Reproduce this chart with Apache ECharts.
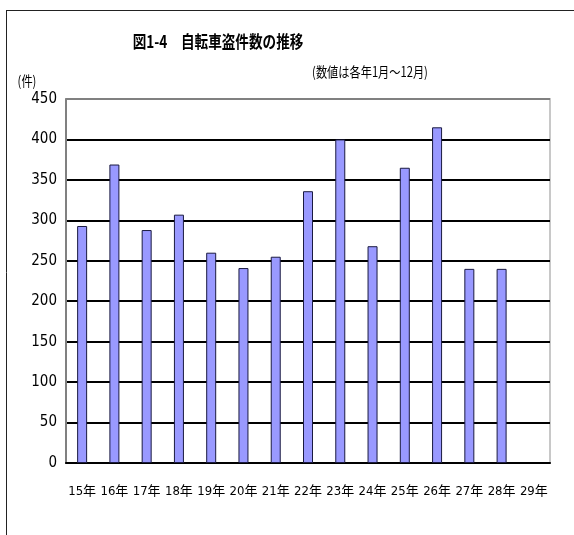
<!DOCTYPE html>
<html>
<head>
<meta charset="utf-8">
<script src="https://cdn.jsdelivr.net/npm/echarts@6/dist/echarts.min.js"></script>
<style>
html, body { margin: 0; padding: 0; background: #fff; }
#myChart { width: 574px; height: 535px; }
</style>
</head>
<body>
<div id="myChart"></div>
<script>
// 年（平成）
let years = ['15年', '16年', '17年', '18年', '19年', '20年', '21年', '22年', '23年', '24年', '25年', '26年', '27年', '28年', '29年']
// 件数
let counts = [293, 369, 288, 307, 260, 241, 255, 336, 400, 268, 365, 415, 240, 240, null]
let yTicks = [0, 50, 100, 150, 200, 250, 300, 350, 400, 450]

let narrow = '"Liberation Sans Narrow", "DejaVu Sans Condensed", "Noto Sans CJK JP", sans-serif'

let myChart = echarts.init(document.getElementById('myChart'))

// 横線：一番上だけ灰色
let splitColors = yTicks.map((v, i) => i === yTicks.length - 1 ? '#808080' : '#000')

let option = {
    animation: false,
    grid: {
        left: 66,
        right: 24,
        top: 99,
        bottom: 72,
        show: true,
        borderColor: '#c8c8c8',
        borderWidth: 2,
        backgroundColor: '#fff'
    },
    graphic: [
        { type: 'line', shape: { x1: 6, y1: 10.5, x2: 574, y2: 10.5 }, style: { stroke: '#222', lineWidth: 1 } },
        { type: 'line', shape: { x1: 6.5, y1: 10, x2: 6.5, y2: 535 }, style: { stroke: '#222', lineWidth: 1 } },
        {
            type: 'text', x: 218, y: 42, scaleX: 0.8,
            style: {
                text: '図1-4　自転車盗件数の推移',
                font: 'bold 17px "Noto Sans CJK JP"',
                fill: '#000', textAlign: 'center', textVerticalAlign: 'middle'
            }
        },
        {
            type: 'text', x: 370, y: 72, scaleX: 0.8,
            style: {
                text: '(数値は各年1月～12月)',
                font: '14px "Noto Sans CJK JP"',
                fill: '#000', textAlign: 'center', textVerticalAlign: 'middle'
            }
        },
        {
            type: 'text', x: 27, y: 81, scaleX: 0.8,
            style: {
                text: '(件)',
                font: '14px "Noto Sans CJK JP"',
                fill: '#000', textAlign: 'center', textVerticalAlign: 'middle'
            }
        }
    ],
    xAxis: {
        type: 'category',
        data: years,
        boundaryGap: true,
        axisLine: { lineStyle: { color: '#000', width: 2 } },
        axisTick: { inside: true, length: 8, lineStyle: { color: '#000', width: 1 } },
        axisLabel: {
            color: '#000',
            fontSize: 13,
            fontFamily: narrow,
            interval: 0,
            margin: 22
        }
    },
    yAxis: {
        type: 'value',
        min: 0,
        max: 450,
        interval: 50,
        axisLine: { show: true, lineStyle: { color: '#808080', width: 2 } },
        axisTick: { show: false },
        axisLabel: {
            color: '#000',
            fontSize: 15,
            fontFamily: narrow,
            margin: 9
        },
        splitLine: { lineStyle: { color: splitColors, width: 2 } }
    },
    series: [
        {
            name: '件数',
            type: 'bar',
            data: counts,
            barWidth: 10,
            itemStyle: {
                color: '#9999ff',
                borderColor: '#1a1a40',
                borderWidth: 1
            }
        }
    ]
}
myChart.setOption(option)
</script>
</body>
</html>
